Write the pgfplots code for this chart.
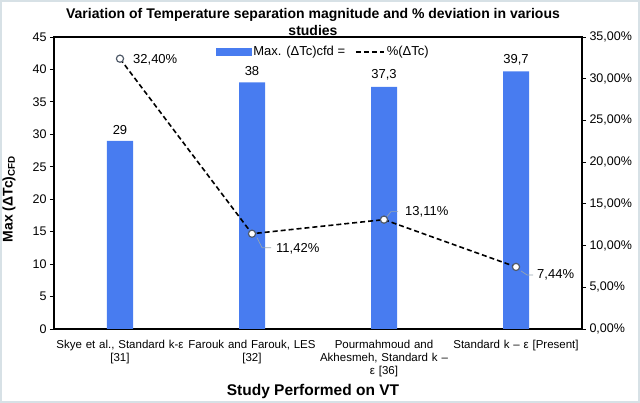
\documentclass[border=0pt]{standalone}
\usepackage{pgfplots}
\pgfplotsset{compat=1.18}
\usepackage{fontspec}
\setmainfont{Liberation Sans}
\definecolor{barblue}{RGB}{72,124,240}
\definecolor{markgray}{RGB}{80,90,105}
\definecolor{leadgray}{RGB}{150,165,175}
\definecolor{framegray}{RGB}{215,225,230}
\pgfplotsset{
  barlegend/.style={legend image code/.code={\fill[barblue] (0pt,-3.5pt) rectangle (35pt,3.5pt);}},
  linelegend/.style={legend image code/.code={\draw[black, line width=1.6pt, dash pattern=on 5pt off 3pt] (0pt,0pt) -- (28pt,0pt);}},
}
\begin{document}
\begin{tikzpicture}
\useasboundingbox (-54pt,-74pt) rectangle (586pt,329pt);
\begin{axis}[
  at={(0pt,0pt)}, anchor=south west,
  scale only axis, width=528pt, height=292pt,
  xmin=-0.5, xmax=3.5, ymin=0, ymax=45,
  ytick={0,5,...,45},
  xtick={0,1,2,3},
  xticklabels={{Skye et al., Standard k-ε\\{}[31]},{Farouk and Farouk, LES\\{}[32]},{Pourmahmoud and\\Akhesmeh, Standard k –\\ε [36]},{Standard k – ε [Present]}},
  x tick label style={font=\fontsize{11.5}{12.8}\selectfont, align=center, text width=140pt, anchor=north, yshift=-4pt},
  major x tick style={draw=none},
  ytick pos=left,
  tick align=outside, major tick length=4pt,
  y tick label style={font=\fontsize{12.5}{14}\selectfont},
  /pgf/number format/assume math mode=true,
  axis line style={line width=1.1pt},
  major tick style={line width=0.8pt, black},
  ybar, bar width=26pt,
  nodes near coords,
  nodes near coords style={font=\fontsize{13}{15}\selectfont, /pgf/number format/use comma, yshift=3pt},
]
\addplot[fill=barblue, draw=none] coordinates {(0,29) (1,38) (2,37.3) (3,39.7)};
\end{axis}
\begin{axis}[
  at={(0pt,0pt)}, anchor=south west,
  scale only axis, width=528pt, height=292pt,
  xmin=-0.5, xmax=3.5, ymin=0, ymax=35,
  axis x line=none, axis y line*=right,
  ytick={0,5,...,35},
  yticklabel={\pgfmathprintnumber[fixed,fixed zerofill,precision=2,use comma]{\tick}\%},
  tick align=outside, major tick length=4pt,
  y tick label style={font=\fontsize{12.5}{14}\selectfont},
  /pgf/number format/assume math mode=true,
  axis line style={line width=1.1pt},
  major tick style={line width=0.8pt, black},
  legend style={at={(0.51,0.949)}, anchor=center, draw=none, fill=none,
    font=\fontsize{13}{15}\selectfont, legend columns=2,
    /tikz/every even column/.append style={column sep=8pt}},
]
\addlegendimage{barlegend}
\addlegendentry{Max. (ΔTc)cfd =}
\addlegendimage{linelegend}
\addlegendentry{\%(ΔTc)}
\addplot[black, line width=1.6pt, dash pattern=on 5pt off 3pt, mark=*, mark size=3.6pt,
  mark options={solid, fill=white, draw=markgray, line width=1.2pt}, forget plot]
  coordinates {(0,32.40) (1,11.42) (2,13.11) (3,7.44)};
\draw[leadgray, line width=0.7pt] (axis cs:1,11.42) ++(5pt,-4pt) -- ++(5pt,-10pt) -- ++(9pt,0pt);
\draw[leadgray, line width=0.7pt] (axis cs:2,13.11) ++(3pt,3pt) -- ++(4pt,5pt) -- ++(7pt,0pt);
\draw[leadgray, line width=0.7pt] (axis cs:3,7.44) ++(5pt,-4pt) -- ++(6pt,-4pt) -- ++(6pt,0pt);
\node[anchor=west, font=\fontsize{13}{15}\selectfont, inner sep=0pt] at (axis cs:0,32.40) [xshift=13pt, yshift=-1pt] {32,40\%};
\node[anchor=west, font=\fontsize{13}{15}\selectfont, inner sep=0pt] at (axis cs:1,11.42) [xshift=24pt, yshift=-15pt] {11,42\%};
\node[anchor=west, font=\fontsize{13}{15}\selectfont, inner sep=0pt] at (axis cs:2,13.11) [xshift=21pt, yshift=8pt] {13,11\%};
\node[anchor=west, font=\fontsize{13}{15}\selectfont, inner sep=0pt] at (axis cs:3,7.44) [xshift=21pt, yshift=-8pt] {7,44\%};
\end{axis}
\node[align=center, font=\bfseries\fontsize{14}{17}\selectfont] at (259pt,307pt) {Variation of Temperature separation magnitude and \% deviation in various\\studies};
\node[rotate=90, font=\bfseries\fontsize{14}{16}\selectfont] at (-45pt,130pt) {Max (ΔTc)\textsubscript{CFD}};
\node[font=\bfseries\fontsize{15.5}{18}\selectfont] at (259pt,-62pt) {Study Performed on VT};
\draw[framegray, line width=2pt] (-53pt,-73pt) rectangle (585pt,328pt);
\end{tikzpicture}
\end{document}
